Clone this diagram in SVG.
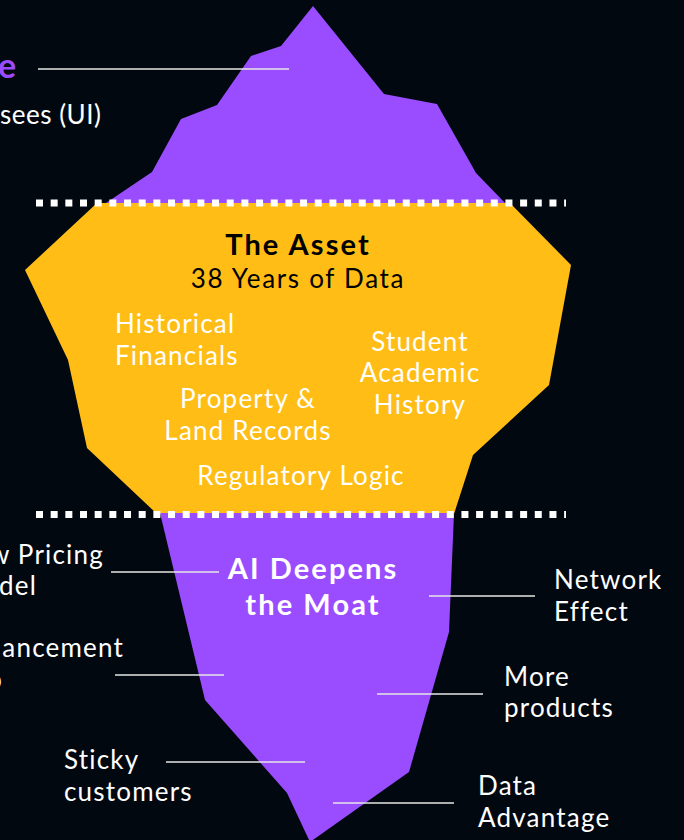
<svg xmlns="http://www.w3.org/2000/svg" width="684" height="840" viewBox="0 0 684 840">
  <style>
    .lbl { font-family: Lato, "Liberation Sans", sans-serif; font-size: 26px; fill: #ffffff; letter-spacing: 1.2px; }
    .in { font-family: Lato, "Liberation Sans", sans-serif; font-size: 26px; fill: #ffffff; letter-spacing: 1.2px; }
    .mid { text-anchor: middle; }
    .end { text-anchor: end; }
    .ttl { font-family: Lato, "Liberation Sans", sans-serif; font-weight: 700; font-size: 29px; letter-spacing: 2.1px; }
    .conn line { stroke: #e6e6e6; stroke-width: 1.5; }
    .water { stroke: #ffffff; stroke-width: 7; stroke-dasharray: 7 7.67; fill: none; }
  </style>
  <rect width="684" height="840" fill="#020810"/>

  <g id="iceberg">
    <polygon id="tip" fill="#9a4cff" points="103,205 152,172 181,119 217,105 251,56 281,46 313,6 384,94 437,104 476,173 507,205"/>
    <polygon id="asset" fill="#ffbd15" points="97,203 25,270 68,360 87,448 157,514 454,514 473,455 549,385 571,265 510,203"/>
    <polygon id="base" fill="#9a4cff" points="160,513 454,513 449,632 409,772 310,842 287,793 205,700"/>
  </g>

  <g id="waterlines">
    <line class="water" x1="36" y1="203" x2="566" y2="203"/>
    <line class="water" x1="36" y1="514.5" x2="566" y2="514.5"/>
  </g>

  <g class="conn" id="connectors">
    <line x1="38" y1="69" x2="289" y2="69"/>
    <line x1="111" y1="572" x2="219" y2="572"/>
    <line x1="115" y1="675" x2="224" y2="675"/>
    <line x1="166" y1="762" x2="305" y2="762"/>
    <line x1="429" y1="596" x2="535" y2="596"/>
    <line x1="377" y1="694" x2="483" y2="694"/>
    <line x1="333" y1="803" x2="454" y2="803"/>
  </g>

  <g id="surface">
    <text x="-2" y="78" font-family="Lato, 'Liberation Sans', sans-serif" font-weight="700" font-size="34" fill="#9a4cff">e</text>
    <text x="0" y="124" font-family="Lato, 'Liberation Sans', sans-serif" font-size="26" letter-spacing="0.5" fill="#ffffff">sees (UI)</text>
  </g>

  <g id="the-asset">
    <text class="ttl mid" x="298" y="255" fill="#000000">The Asset</text>
    <text class="mid" x="298" y="288" font-family="Lato, 'Liberation Sans', sans-serif" font-size="26" letter-spacing="1.7" fill="#000000">38 Years of Data</text>
  </g>
  <g id="historical-financials">
    <text class="in" x="115" y="333">Historical</text>
    <text class="in" x="115" y="365">Financials</text>
  </g>
  <g id="property-land">
    <text class="in mid" x="248" y="408">Property &amp;</text>
    <text class="in mid" x="248" y="440">Land Records</text>
  </g>
  <g id="student-history">
    <text class="in mid" x="420" y="351">Student</text>
    <text class="in mid" x="420" y="382">Academic</text>
    <text class="in mid" x="420" y="414">History</text>
  </g>
  <g id="regulatory">
    <text class="in mid" x="301" y="485">Regulatory Logic</text>
  </g>

  <g id="ai-moat">
    <text class="ttl mid" x="313" y="579" fill="#ffffff">AI Deepens</text>
    <text class="ttl mid" x="313" y="615" fill="#ffffff">the Moat</text>
  </g>
  <g id="pricing">
    <text class="lbl end" x="104" y="564">w Pricing</text>
    <text class="lbl end" x="37" y="595">del</text>
  </g>
  <g id="enhancement">
    <text class="lbl end" x="124" y="657">ancement</text>
    <text class="lbl end" x="3" y="689">p</text>
  </g>
  <g id="sticky">
    <text class="lbl" x="64" y="769">Sticky</text>
    <text class="lbl" x="64" y="801">customers</text>
  </g>
  <g id="network">
    <text class="lbl" x="554" y="589">Network</text>
    <text class="lbl" x="554" y="621">Effect</text>
  </g>
  <g id="products">
    <text class="lbl" x="504" y="686">More</text>
    <text class="lbl" x="504" y="717">products</text>
  </g>
  <g id="data-advantage">
    <text class="lbl" x="478" y="795">Data</text>
    <text class="lbl" x="478" y="827">Advantage</text>
  </g>
</svg>
